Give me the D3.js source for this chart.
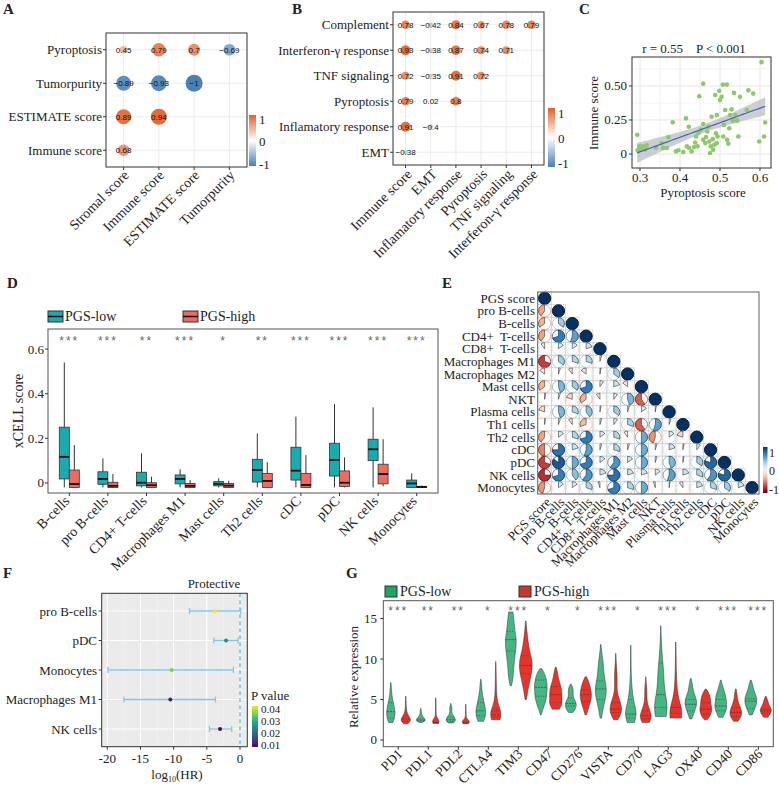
<!DOCTYPE html>
<html><head><meta charset="utf-8">
<script src="https://cdn.jsdelivr.net/npm/d3@7"></script>
<style>
body{margin:0;background:#fff}
svg{display:block}
text{font-family:"Liberation Serif","Times New Roman",serif;fill:#222;white-space:pre}
</style>
</head><body>
<svg id="c" width="779" height="786"></svg>
<script>
// ================= DATA =================
// Panel A
const aRows = ["Pyroptosis", "Tumorpurity", "ESTIMATE score", "Immune score"];
const aCols = ["Stromal score", "Immune score", "ESTIMATE score", "Tumorpurity"];
const aVals = [
  [0.45, 0.79, 0.7, -0.69],
  [-0.89, -0.93, -1, null],
  [0.89, 0.94, null, null],
  [0.68, null, null, null]
];
// Panel B
const bRows = ["Complement", "Interferon-γ response", "TNF signaling", "Pyroptosis", "Inflamatory response", "EMT"];
const bCols = ["Immune score", "EMT", "Inflamatory response", "Pyroptosis", "TNF signaling", "Interferon-γ response"];
const bVals = [
  [0.78, -0.42, 0.84, 0.67, 0.78, 0.79],
  [0.93, -0.38, 0.87, 0.74, 0.71, null],
  [0.72, -0.35, 0.91, 0.72, null, null],
  [0.79, 0.02, 0.8, null, null, null],
  [0.91, -0.4, null, null, null, null],
  [-0.38, null, null, null, null, null]
];
const colorbarTicks = [1, 0, -1];
// Panel C
const cPyro = [0.293,0.294,0.298,0.303,0.307,0.312,0.317,0.354,0.358,0.367,0.371,0.382,0.390,0.396,0.408,0.415,0.422,0.423,0.429,0.435,0.438,0.440,0.448,0.446,0.452,0.458,0.458,0.463,0.465,0.468,0.471,0.473,0.477,0.479,0.482,0.483,0.486,0.488,0.490,0.492,0.494,0.498,0.500,0.504,0.507,0.508,0.510,0.513,0.517,0.518,0.521,0.523,0.525,0.529,0.532,0.535,0.538,0.543,0.546,0.550,0.567,0.571,0.583,0.598,0.604,0.610,0.613,0.458,0.444,0.417,0.492,0.475,0.340];
const cImmune = [0.141,0.027,0.056,0.039,0.056,0.032,0.063,0.080,0.044,0.044,0.124,0.233,0.019,0.027,0.015,0.262,0.200,0.044,0.019,0.051,0.085,0.129,0.425,0.153,0.177,0.517,0.221,0.080,0.124,0.165,0.200,0.092,0.056,0.274,0.109,0.032,0.068,0.434,0.153,0.286,0.129,0.464,0.396,0.420,0.510,0.129,0.214,0.323,0.510,0.104,0.075,0.189,0.286,0.328,0.245,0.449,0.286,0.245,0.129,0.420,0.323,0.468,0.444,0.092,0.675,0.129,0.231,0.104,0.056,0.056,0.080,0.007,0.046];
const cXTicks = [0.3, 0.4, 0.5, 0.6];
const cYTicks = [0, 0.25, 0.5];
// Panel D  [min, q1, median, q3, max]
const dCells = ["B-cells", "pro B-cells", "CD4+ T-cells", "Macrophages M1", "Mast cells", "Th2 cells", "cDC", "pDC", "NK cells", "Monocytes"];
const dLow = [
  [-0.02, 0.018, 0.117, 0.25, 0.54],
  [-0.02, -0.006, 0.018, 0.05, 0.11],
  [-0.02, -0.013, 0.001, 0.048, 0.133],
  [-0.02, -0.004, 0.018, 0.036, 0.061],
  [-0.02, -0.013, -0.004, 0.006, 0.021],
  [-0.02, 0.004, 0.058, 0.106, 0.222],
  [-0.02, 0.013, 0.055, 0.16, 0.297],
  [-0.02, 0.031, 0.103, 0.178, 0.354],
  [-0.02, 0.1, 0.151, 0.196, 0.339],
  [-0.02, -0.02, -0.002, 0.013, 0.043]
];
const dHigh = [
  [-0.02, -0.02, -0.005, 0.058, 0.17],
  [-0.02, -0.02, -0.013, 0.003, 0.04],
  [-0.02, -0.02, -0.01, 0.001, 0.028],
  [-0.02, -0.02, -0.013, -0.002, 0.013],
  [-0.02, -0.02, -0.012, -0.002, 0.01],
  [-0.02, -0.02, 0.009, 0.043, 0.093],
  [-0.02, -0.02, -0.009, 0.043, 0.125],
  [-0.02, -0.016, 0.001, 0.054, 0.115],
  [-0.015, -0.004, 0.04, 0.084, 0.196],
  [-0.02, -0.02, -0.018, -0.015, -0.012]
];
const dStars = ["***", "***", "**", "***", "*", "**", "***", "***", "***", "***"];
const dYTicks = [0, 0.2, 0.4, 0.6];
// Panel E (lower triangle correlations, row i has values for columns 0..i-1)
const eNames = ["PGS score", "pro B-cells", "B-cells", "CD4+  T-cells", "CD8+  T-cells", "Macrophages M1", "Macrophages M2", "Mast cells", "NKT", "Plasma cells", "Th1 cells", "Th2 cells", "cDC", "pDC", "NK cells", "Monocytes"];
const eCorr = [
  [],
  [-0.4],
  [-0.35, 0.35],
  [-0.4, 0.7, 0.55],
  [-0.1, 0.15, 0.15, 0.2],
  [-0.7, 0.35, 0.3, 0.3, 0.05],
  [-0.15, 0.05, -0.1, -0.15, 0.03, 0.35],
  [-0.35, 0.45, 0.35, 0.7, 0.1, 0.2, -0.15],
  [0.03, 0.05, -0.2, -0.35, -0.1, 0.1, 0.45, -0.6],
  [-0.2, 0.45, 0.3, 0.4, 0.03, 0.35, 0.05, 0.15, 0.03],
  [0.02, 0.05, -0.1, -0.3, 0.05, 0.1, 0.3, -0.6, 0.55, 0.05],
  [-0.4, 0.15, 0.3, 0.7, 0.15, 0.3, -0.1, 0.5, -0.45, 0.15, -0.2],
  [-0.5, 0.75, 0.2, 0.55, 0.05, 0.3, 0.05, 0.5, 0.05, 0.2, 0.03, 0.1],
  [-0.7, 0.85, 0.5, 0.7, 0.15, 0.6, 0.15, 0.5, 0.05, 0.45, 0.03, 0.35, 0.8],
  [-0.75, 0.7, 0.4, 0.6, 0.2, 0.75, 0.2, 0.2, 0.15, 0.55, 0.2, 0.3, 0.6, 0.8],
  [-0.45, 0.15, 0.15, 0.3, -0.05, 0.7, 0.3, 0.5, -0.05, 0.03, -0.1, 0.2, 0.3, 0.35, 0.2]
];
// Panel F
const fCells = ["pro B-cells", "pDC", "Monocytes", "Macrophages M1", "NK cells"];
const fHR = [-3.77, -2.1, -10.3, -10.5, -3.0];
const fLo = [-7.6, -3.95, -19.9, -17.5, -4.6];
const fHi = [0.1, -0.3, -1.0, -3.7, -1.25];
const fP = [0.043, 0.025, 0.036, 0.011, 0.009];
const fXTicks = [-20, -15, -10, -5, 0];
const fPTicks = [0.04, 0.03, 0.02, 0.01];
// Panel G  violin: range [min,max], density profile (9 evenly spaced points), quartiles [q1,med,q3]
const gGenes = ["PD1", "PDL1", "PDL2", "CTLA4", "TIM3", "CD47", "CD276", "VISTA", "CD70", "LAG3", "OX40", "CD40", "CD86"];
const gStars = ["***", "**", "**", "*", "***", "*", "*", "***", "*", "***", "*", "***", "***"];
const gLowRange = [[2.15,7.1],[2.15,3.9],[2.1,4.5],[2.3,7.5],[6.7,15.8],[3.1,8.8],[3.4,6.9],[2.7,11.8],[2.15,11.7],[2.9,14.1],[2.6,7.6],[2.8,7.4],[3.1,7.4]];
const gLowDens = [
  [0.3,0.55,0.6,0.5,0.35,0.2,0.12,0.08,0.03],
  [0.2,0.65,0.6,0.35,0.2,0.1,0.08,0.06,0.03],
  [0.35,0.7,0.6,0.35,0.15,0.12,0.2,0.08,0.03],
  [0.4,0.65,0.7,0.55,0.4,0.25,0.15,0.1,0.03],
  [0.1,0.35,0.4,0.55,0.7,0.8,0.55,0.45,0.3],
  [0.05,0.3,0.6,0.8,0.85,0.9,0.8,0.6,0.15],
  [0.3,0.65,0.8,0.7,0.4,0.3,0.35,0.3,0.05],
  [0.1,0.3,0.6,0.85,0.6,0.4,0.35,0.15,0.03],
  [0.5,0.85,0.45,0.25,0.12,0.06,0.04,0.03,0.02],
  [0.75,0.95,0.6,0.45,0.4,0.25,0.12,0.06,0.02],
  [0.15,0.4,0.65,0.85,0.75,0.45,0.3,0.2,0.05],
  [0.3,0.6,0.85,0.8,0.75,0.6,0.4,0.2,0.05],
  [0.2,0.45,0.7,0.85,0.8,0.6,0.35,0.25,0.05]
];
const gLowQ = [[2.7,3.5,4.6],[2.3,2.45,2.6],[2.3,2.5,2.8],[3.0,3.6,4.6],[11.0,12.4,13.4],[5.4,6.5,7.4],[4.2,4.5,5.2],[5.0,6.3,7.3],[2.7,3.2,5.0],[4.0,5.6,9.5],[3.6,4.4,5.0],[3.6,4.2,5.0],[3.9,4.8,5.1]];
const gHighRange = [[2.0,5.4],[2.05,5.2],[2.0,4.4],[2.5,9.7],[5.0,14.7],[3.8,9.0],[3.1,7.8],[2.5,10.7],[2.15,7.8],[2.7,12.1],[2.5,6.3],[2.3,6.3],[2.8,5.4]];
const gHighDens = [
  [0.3,0.75,0.5,0.2,0.1,0.06,0.05,0.04,0.02],
  [0.4,0.5,0.06,0.05,0.04,0.04,0.03,0.03,0.02],
  [0.35,0.6,0.15,0.06,0.04,0.04,0.03,0.03,0.02],
  [0.6,0.8,0.35,0.15,0.1,0.07,0.05,0.04,0.02],
  [0.1,0.3,0.6,0.9,0.9,0.5,0.3,0.15,0.03],
  [0.5,0.9,0.85,0.85,0.8,0.55,0.35,0.25,0.05],
  [0.1,0.3,0.5,0.7,0.8,0.75,0.6,0.4,0.1],
  [0.3,0.9,0.7,0.25,0.15,0.2,0.15,0.05,0.02],
  [0.5,0.85,0.6,0.3,0.15,0.15,0.15,0.05,0.02],
  [0.8,0.85,0.4,0.2,0.12,0.08,0.05,0.04,0.02],
  [0.2,0.6,0.8,0.85,0.7,0.7,0.6,0.4,0.05],
  [0.3,0.7,0.85,0.75,0.5,0.3,0.2,0.15,0.05],
  [0.3,0.55,0.75,0.8,0.6,0.4,0.3,0.2,0.05]
];
const gHighQ = [[2.3,2.6,3.0],[2.1,2.15,2.2],[2.05,2.12,2.2],[2.8,3.1,3.6],[8.2,9.2,10.4],[4.6,5.6,6.6],[4.8,5.6,6.2],[3.4,3.8,4.6],[2.6,3.0,3.6],[3.3,4.0,5.5],[3.2,3.8,4.6],[2.9,3.4,4.0],[3.3,3.6,3.8]];
const gYTicks = [0, 5, 10, 15];

// ================= DRAWING =================
const svg = d3.select("#c");
const SANS = "Liberation Sans, Arial, sans-serif";
const fmtV = v => String(v).replace("-", "−");

function panelLabel(t, x, y) {
  svg.append("text").attr("x", x).attr("y", y).attr("font-weight", "bold").attr("font-size", 15).text(t);
}
function rotLabel(g, t, x, y, size) {
  g.append("text").attr("transform", `translate(${x},${y}) rotate(-45)`)
    .attr("text-anchor", "end").attr("font-size", size).text(t);
}
let gradId = 0;
function colorbar(x, y, w, h, interp, ticks, labelY, labelX, size) {
  const id = "grad" + (gradId++);
  const grad = svg.append("defs").append("linearGradient").attr("id", id)
    .attr("x1", 0).attr("y1", 0).attr("x2", 0).attr("y2", 1);
  d3.range(0, 1.0001, 0.1).forEach(t => grad.append("stop").attr("offset", t).attr("stop-color", interp(t)));
  svg.append("rect").attr("x", x).attr("y", y).attr("width", w).attr("height", h).attr("fill", `url(#${id})`);
  ticks.forEach(t => svg.append("text").attr("x", labelX).attr("y", labelY(t) + 4.5)
    .attr("font-size", size || 13).text(String(t)));
}

// ---------- A & B ----------
const corrColor = d3.scaleLinear().domain([-1, 0, 1]).range(["#4B80B6", "#FFFFFF", "#E2612B"]);
function corrDots(rows, cols, vals, box, rMax, lblDx, lblDy) {
  const g = svg.append("g");
  const x = d3.scalePoint().domain(d3.range(cols.length)).range([box.l, box.r]).padding(0.5);
  const y = d3.scalePoint().domain(d3.range(rows.length)).range([box.t, box.b]).padding(0.5);
  g.selectAll(".gv").data(d3.range(cols.length)).join("line")
    .attr("x1", x).attr("x2", x).attr("y1", box.t).attr("y2", box.b).attr("stroke", "#EBEBEB");
  g.selectAll(".gh").data(d3.range(rows.length)).join("line")
    .attr("y1", y).attr("y2", y).attr("x1", box.l).attr("x2", box.r).attr("stroke", "#EBEBEB");
  const cells = [];
  vals.forEach((row, i) => row.forEach((v, j) => { if (v !== null) cells.push({ i, j, v }); }));
  g.selectAll("circle").data(cells).join("circle")
    .attr("cx", d => x(d.j)).attr("cy", d => y(d.i)).attr("r", d => rMax * Math.abs(d.v))
    .attr("fill", d => corrColor(d.v));
  g.selectAll(".val").data(cells).join("text")
    .attr("x", d => x(d.j)).attr("y", d => y(d.i) + 3).attr("text-anchor", "middle")
    .style("font-family", SANS).attr("font-size", 8).style("fill", "#111").text(d => fmtV(d.v));
  g.append("rect").attr("x", box.l).attr("y", box.t).attr("width", box.r - box.l).attr("height", box.b - box.t)
    .attr("fill", "none").attr("stroke", "#333").attr("stroke-width", 1);
  rows.forEach((r, i) => {
    g.append("text").attr("x", box.l - 4).attr("y", y(i) + 4.5).attr("text-anchor", "end").attr("font-size", 13).text(r);
    g.append("line").attr("x1", box.l - 3).attr("x2", box.l).attr("y1", y(i)).attr("y2", y(i)).attr("stroke", "#333");
  });
  cols.forEach((c, j) => {
    rotLabel(g, c, x(j) + lblDx, box.b + lblDy, 14);
    g.append("line").attr("x1", x(j)).attr("x2", x(j)).attr("y1", box.b).attr("y2", box.b + 3).attr("stroke", "#333");
  });
}
panelLabel("A", 3, 14);
corrDots(aRows, aCols, aVals, { l: 106, r: 247, t: 33, b: 167 }, 8.5, 6, 9);
const cbA = d3.scaleLinear().domain([1, -1]).range([119, 164]);
colorbar(249, 115, 7, 51, t => corrColor(1 - 2 * t), colorbarTicks, cbA, 259);

panelLabel("B", 292, 14);
corrDots(bRows, bCols, bVals, { l: 393, r: 544, t: 12, b: 165 }, 5.5, 7, 10);
const cbB = d3.scaleLinear().domain([1, -1]).range([113, 163]);
colorbar(548, 108, 7, 59, t => corrColor(1 - 2 * t), colorbarTicks, cbB, 558);

// ---------- C ----------
panelLabel("C", 579, 14);
{
  const box = { l: 632, r: 771, t: 57, b: 168 };
  const x = d3.scaleLinear().domain([0.28, 0.6275]).range([box.l, box.r]);
  const y = d3.scaleLinear().domain([-0.103, 0.713]).range([box.b, box.t]);
  const g = svg.append("g");
  [0.35, 0.45, 0.55].forEach(v => g.append("line").attr("x1", x(v)).attr("x2", x(v)).attr("y1", box.t).attr("y2", box.b).attr("stroke", "#F3F3F3"));
  [0.125, 0.375, 0.625].forEach(v => g.append("line").attr("y1", y(v)).attr("y2", y(v)).attr("x1", box.l).attr("x2", box.r).attr("stroke", "#F3F3F3"));
  cXTicks.forEach(v => g.append("line").attr("x1", x(v)).attr("x2", x(v)).attr("y1", box.t).attr("y2", box.b).attr("stroke", "#E6E6E6"));
  cYTicks.forEach(v => g.append("line").attr("y1", y(v)).attr("y2", y(v)).attr("x1", box.l).attr("x2", box.r).attr("stroke", "#E6E6E6"));
  // regression + CI
  const n = cPyro.length, mx = d3.mean(cPyro), my = d3.mean(cImmune);
  let sxx = 0, sxy = 0;
  cPyro.forEach((v, i) => { sxx += (v - mx) ** 2; sxy += (v - mx) * (cImmune[i] - my); });
  const b = sxy / sxx, a = my - b * mx;
  let sse = 0; cPyro.forEach((v, i) => { sse += (cImmune[i] - a - b * v) ** 2; });
  const s = Math.sqrt(sse / (n - 2));
  const [x0, x1] = d3.extent(cPyro);
  const xs = d3.range(0, 41).map(k => x0 + (x1 - x0) * k / 40);
  const band = xs.map(v => { const se = 1.99 * s * Math.sqrt(1 / n + (v - mx) ** 2 / sxx); const f = a + b * v; return { v, lo: f - se, hi: f + se, f }; });
  g.append("path").datum(band).attr("fill", "#BDBDBD").attr("opacity", 0.75)
    .attr("d", d3.area().x(d => x(d.v)).y0(d => y(d.lo)).y1(d => y(d.hi)));
  g.selectAll(".pt").data(cPyro).join("circle").attr("cx", d => x(d)).attr("cy", (d, i) => y(cImmune[i]))
    .attr("r", 2.3).attr("fill", "#8DC86A");
  g.append("path").datum(band).attr("fill", "none").attr("stroke", "#3A63C8").attr("stroke-width", 1.2)
    .attr("d", d3.line().x(d => x(d.v)).y(d => y(d.f)));
  g.append("rect").attr("x", box.l).attr("y", box.t).attr("width", box.r - box.l).attr("height", box.b - box.t)
    .attr("fill", "none").attr("stroke", "#333");
  cXTicks.forEach(v => {
    g.append("line").attr("x1", x(v)).attr("x2", x(v)).attr("y1", box.b).attr("y2", box.b + 3).attr("stroke", "#333");
    g.append("text").attr("x", x(v)).attr("y", 182).attr("text-anchor", "middle").attr("font-size", 13).text(String(v));
  });
  cYTicks.forEach(v => {
    g.append("line").attr("x1", box.l - 3).attr("x2", box.l).attr("y1", y(v)).attr("y2", y(v)).attr("stroke", "#333");
    g.append("text").attr("x", 627).attr("y", y(v) + 4.5).attr("text-anchor", "end").attr("font-size", 13).text(v === 0 ? "0" : v.toFixed(2));
  });
  g.append("text").attr("x", 703).attr("y", 197).attr("text-anchor", "middle").attr("font-size", 13).text("Pyroptosis score");
  g.append("text").attr("transform", "translate(598,113) rotate(-90)").attr("text-anchor", "middle").attr("font-size", 13).text("Immune score");
  g.append("text").attr("x", 694).attr("y", 53).attr("text-anchor", "middle").attr("font-size", 13).text("r = 0.55    P < 0.001");
}

// ---------- D ----------
panelLabel("D", 7, 288);
{
  const box = { l: 48, r: 438, t: 329, b: 493 };
  const x = d3.scaleBand().domain(dCells).range([50, 436]);
  const y = d3.scaleLinear().domain([-0.045, 0.69]).range([box.b, box.t]);
  const g = svg.append("g");
  const cols = ["#1BAAB0", "#EE6B61"];
  const bw = 10;
  [dLow, dHigh].forEach((ser, k) => {
    ser.forEach((s, i) => {
      const cx = x(dCells[i]) + x.bandwidth() / 2 + (k === 0 ? -5 : 5);
      g.append("line").attr("x1", cx).attr("x2", cx).attr("y1", y(s[0])).attr("y2", y(s[4])).attr("stroke", "#333").attr("stroke-width", 1);
      g.append("rect").attr("x", cx - bw / 2).attr("y", y(s[3])).attr("width", bw).attr("height", Math.max(1, y(s[1]) - y(s[3])))
        .attr("fill", cols[k]).attr("stroke", "#333").attr("stroke-width", 0.8);
      g.append("line").attr("x1", cx - bw / 2).attr("x2", cx + bw / 2).attr("y1", y(s[2])).attr("y2", y(s[2])).attr("stroke", "#111").attr("stroke-width", 1.8);
    });
  });
  g.append("rect").attr("x", box.l).attr("y", box.t).attr("width", box.r - box.l).attr("height", box.b - box.t)
    .attr("fill", "none").attr("stroke", "#555").attr("stroke-width", 1);
  dStars.forEach((s, i) => g.append("text").attr("x", x(dCells[i]) + x.bandwidth() / 2).attr("y", 345).attr("text-anchor", "middle")
    .style("font-family", SANS).attr("font-size", 12).attr("letter-spacing", 2).style("fill", "#666").text(s));
  dYTicks.forEach(v => {
    g.append("line").attr("x1", box.l - 3).attr("x2", box.l).attr("y1", y(v)).attr("y2", y(v)).attr("stroke", "#333");
    g.append("text").attr("x", 44).attr("y", y(v) + 4.5).attr("text-anchor", "end").attr("font-size", 13).text(String(v));
  });
  dCells.forEach(c => {
    const cx = x(c) + x.bandwidth() / 2;
    g.append("line").attr("x1", cx).attr("x2", cx).attr("y1", box.b).attr("y2", box.b + 3).attr("stroke", "#333");
    rotLabel(g, c, cx + 1, box.b + 9, 14);
  });
  g.append("text").attr("transform", "translate(23,411) rotate(-90)").attr("text-anchor", "middle").attr("font-size", 14).text("xCELL score");
  // legend
  [["PGS-low", 48], ["PGS-high", 183]].forEach(([t, lx], k) => {
    g.append("rect").attr("x", lx).attr("y", 311).attr("width", 15).attr("height", 11).attr("fill", cols[k]).attr("stroke", "#333");
    g.append("line").attr("x1", lx).attr("x2", lx + 15).attr("y1", 316.5).attr("y2", 316.5).attr("stroke", "#111").attr("stroke-width", 1.5);
    g.append("text").attr("x", lx + 17).attr("y", 321).attr("font-size", 14).text(t);
  });
}

// ---------- E ----------
panelLabel("E", 442, 288);
{
  const box = { l: 537.7, r: 759, t: 292, b: 494 };
  const x = d3.scaleBand().domain(eNames).range([box.l, box.r]);
  const y = d3.scaleBand().domain(eNames).range([box.t, box.b]);
  const col = v => d3.interpolateRdBu((v + 1) / 2);
  const g = svg.append("g");
  const cells = [];
  eNames.forEach((rn, i) => {
    for (let j = 0; j <= i; j++) cells.push({ i, j, v: j === i ? 1 : eCorr[i][j] });
  });
  g.selectAll(".cell").data(cells).join("rect")
    .attr("x", d => x(eNames[d.j])).attr("y", d => y(eNames[d.i])).attr("width", x.bandwidth()).attr("height", y.bandwidth())
    .attr("fill", "none").attr("stroke", "#D4D4D4").attr("stroke-width", 0.8);
  const r = 6.1;
  cells.forEach(d => {
    const cx = x(eNames[d.j]) + x.bandwidth() / 2, cy = y(eNames[d.i]) + y.bandwidth() / 2;
    g.append("circle").attr("cx", cx).attr("cy", cy).attr("r", r).attr("fill", "none").attr("stroke", col(d.v)).attr("stroke-width", 0.9);
    const arc = d3.arc().innerRadius(0).outerRadius(r).startAngle(0).endAngle(d.v * 2 * Math.PI);
    g.append("path").attr("transform", `translate(${cx},${cy})`).attr("d", arc())
      .attr("fill", col(d.v)).attr("stroke", "#111").attr("stroke-width", 0.5);
  });
  g.append("rect").attr("x", box.l).attr("y", box.t).attr("width", box.r - box.l).attr("height", box.b - box.t)
    .attr("fill", "none").attr("stroke", "#666").attr("stroke-width", 1);
  eNames.forEach(nm => {
    g.append("text").attr("x", 535).attr("y", y(nm) + y.bandwidth() / 2 + 4.5).attr("text-anchor", "end").attr("font-size", 13).text(nm);
    rotLabel(g, nm, x(nm) + x.bandwidth() / 2 + 7, box.b + 9, 13);
  });
  const cbE = d3.scaleLinear().domain([1, -1]).range([452, 489]);
  colorbar(763, 447, 4.5, 46, t => d3.interpolateRdBu(1 - t), colorbarTicks, cbE, 769, 12);
}

// ---------- F ----------
panelLabel("F", 3, 578);
{
  const box = { l: 101.7, r: 247.3, t: 593.3, b: 746.7 };
  const x = d3.scaleLinear().domain([-20.84, 1.1]).range([box.l, box.r]);
  const y = d3.scalePoint().domain(fCells).range([box.t, box.b]).padding(0.6);
  const pCol = d3.scaleSequential(d3.interpolateViridis).domain([0.008, 0.043]);
  const g = svg.append("g");
  g.append("rect").attr("x", box.l).attr("y", box.t).attr("width", box.r - box.l).attr("height", box.b - box.t).attr("fill", "#EBEBEB");
  [-17.5, -12.5, -7.5, -2.5].forEach(v => g.append("line").attr("x1", x(v)).attr("x2", x(v)).attr("y1", box.t).attr("y2", box.b).attr("stroke", "#F6F6F6").attr("stroke-width", 0.6));
  fXTicks.forEach(v => g.append("line").attr("x1", x(v)).attr("x2", x(v)).attr("y1", box.t).attr("y2", box.b).attr("stroke", "#FFF").attr("stroke-width", 1.1));
  fCells.forEach(c => g.append("line").attr("y1", y(c)).attr("y2", y(c)).attr("x1", box.l).attr("x2", box.r).attr("stroke", "#FFF").attr("stroke-width", 1.1));
  g.append("line").attr("x1", x(0)).attr("x2", x(0)).attr("y1", box.t).attr("y2", box.b).attr("stroke", "#3FB6E8").attr("stroke-width", 1.2).attr("stroke-dasharray", "4,3");
  fCells.forEach((c, i) => {
    const cy = y(c);
    g.append("line").attr("x1", x(fLo[i])).attr("x2", x(fHi[i])).attr("y1", cy).attr("y2", cy).attr("stroke", "#7FC8EA").attr("stroke-width", 1.3);
    [fLo[i], fHi[i]].forEach(v => g.append("line").attr("x1", x(v)).attr("x2", x(v)).attr("y1", cy - 3).attr("y2", cy + 3).attr("stroke", "#7FC8EA").attr("stroke-width", 1.3));
    g.append("circle").attr("cx", x(fHR[i])).attr("cy", cy).attr("r", 2).attr("fill", pCol(fP[i]));
    g.append("text").attr("x", 97).attr("y", cy + 4.5).attr("text-anchor", "end").attr("font-size", 13).text(c);
    g.append("line").attr("x1", box.l - 3).attr("x2", box.l).attr("y1", cy).attr("y2", cy).attr("stroke", "#333");
  });
  g.append("rect").attr("x", box.l).attr("y", box.t).attr("width", box.r - box.l).attr("height", box.b - box.t).attr("fill", "none").attr("stroke", "#333");
  fXTicks.forEach(v => {
    g.append("line").attr("x1", x(v)).attr("x2", x(v)).attr("y1", box.b).attr("y2", box.b + 3).attr("stroke", "#333");
    g.append("text").attr("x", x(v)).attr("y", 763).attr("text-anchor", "middle").attr("font-size", 13).text(String(v));
  });
  const xl = g.append("text").attr("x", 177).attr("y", 779).attr("text-anchor", "middle").attr("font-size", 13);
  xl.append("tspan").text("log");
  xl.append("tspan").attr("font-size", 8).attr("dy", 3).text("10");
  xl.append("tspan").attr("dy", -3).text("(HR)");
  g.append("text").attr("x", 214).attr("y", 588).attr("text-anchor", "middle").attr("font-size", 13).text("Protective");
  // legend
  g.append("text").attr("x", 251).attr("y", 700).attr("font-size", 13).text("P value");
  const ly = d3.scaleLinear().domain([0.04, 0.01]).range([709, 745.5]);
  const id = "gradP";
  const grad = svg.append("defs").append("linearGradient").attr("id", id).attr("x1", 0).attr("y1", 0).attr("x2", 0).attr("y2", 1);
  d3.range(0, 1.0001, 0.1).forEach(t => grad.append("stop").attr("offset", t).attr("stop-color", pCol(ly.invert(706 + t * 41))));
  g.append("rect").attr("x", 252).attr("y", 706).attr("width", 6).attr("height", 41).attr("fill", `url(#${id})`);
  fPTicks.forEach(v => g.append("text").attr("x", 261).attr("y", ly(v) + 3.8).attr("font-size", 11).text(v.toFixed(2)));
}

// ---------- G ----------
panelLabel("G", 346, 578);
{
  const box = { l: 383.3, r: 773.3, t: 600.7, b: 746.7 };
  const x = d3.scaleBand().domain(gGenes).range([box.l, box.r]);
  const y = d3.scaleLinear().domain([-0.83, 17.2]).range([box.b, box.t]);
  const cols = ["#45B583", "#E3352C"];
  const wpx = 7.2;
  const g = svg.append("g");
  [[gLowRange, gLowDens, gLowQ], [gHighRange, gHighDens, gHighQ]].forEach(([rng, dens, qs], k) => {
    gGenes.forEach((gene, i) => {
      const cx = x(gene) + x.bandwidth() / 2 + (k === 0 ? -7.5 : 7.5);
      const [lo, hi] = rng[i];
      const pts = dens[i].map((d, m) => ({ v: lo + (hi - lo) * m / (dens[i].length - 1), d }));
      const dAt = d3.scaleLinear().domain(pts.map(p => p.v)).range(pts.map(p => p.d));
      g.append("path").datum(pts).attr("fill", cols[k]).attr("stroke", "#333").attr("stroke-width", 0.5)
        .attr("d", d3.area().curve(d3.curveBasis).y(p => y(p.v)).x0(p => cx - p.d * wpx).x1(p => cx + p.d * wpx));
      qs[i].forEach((q, m) => {
        const w = dAt(q) * wpx * 0.9;
        g.append("line").attr("x1", cx - w).attr("x2", cx + w).attr("y1", y(q)).attr("y2", y(q))
          .attr("stroke", "#333").attr("stroke-width", 0.6).attr("stroke-dasharray", m === 1 ? "2,1" : "1,1.5");
      });
    });
  });
  g.append("rect").attr("x", box.l).attr("y", box.t).attr("width", box.r - box.l).attr("height", box.b - box.t)
    .attr("fill", "none").attr("stroke", "#555").attr("stroke-width", 1);
  gStars.forEach((s, i) => g.append("text").attr("x", x(gGenes[i]) + x.bandwidth() / 2).attr("y", 615).attr("text-anchor", "middle")
    .style("font-family", SANS).attr("font-size", 12).attr("letter-spacing", 2).style("fill", "#666").text(s));
  gYTicks.forEach(v => {
    g.append("line").attr("x1", box.l - 3).attr("x2", box.l).attr("y1", y(v)).attr("y2", y(v)).attr("stroke", "#333");
    g.append("text").attr("x", 377).attr("y", y(v) + 4.5).attr("text-anchor", "end").attr("font-size", 13).text(String(v));
  });
  gGenes.forEach(gene => {
    const cx = x(gene) + x.bandwidth() / 2;
    g.append("line").attr("x1", cx).attr("x2", cx).attr("y1", box.b).attr("y2", box.b + 3).attr("stroke", "#333");
    rotLabel(g, gene, cx + 5, box.b + 8, 13.5);
  });
  g.append("text").attr("transform", "translate(358,677) rotate(-90)").attr("text-anchor", "middle").attr("font-size", 13).text("Relative expression");
  [["PGS-low", 385], ["PGS-high", 519]].forEach(([t, lx], k) => {
    g.append("rect").attr("x", lx).attr("y", 586).attr("width", 12).attr("height", 11).attr("fill", k === 0 ? "#1FA563" : "#C8372D").attr("stroke", "#333");
    g.append("text").attr("x", lx + 15).attr("y", 596).attr("font-size", 14).text(t);
  });
}
</script>
</body></html>
